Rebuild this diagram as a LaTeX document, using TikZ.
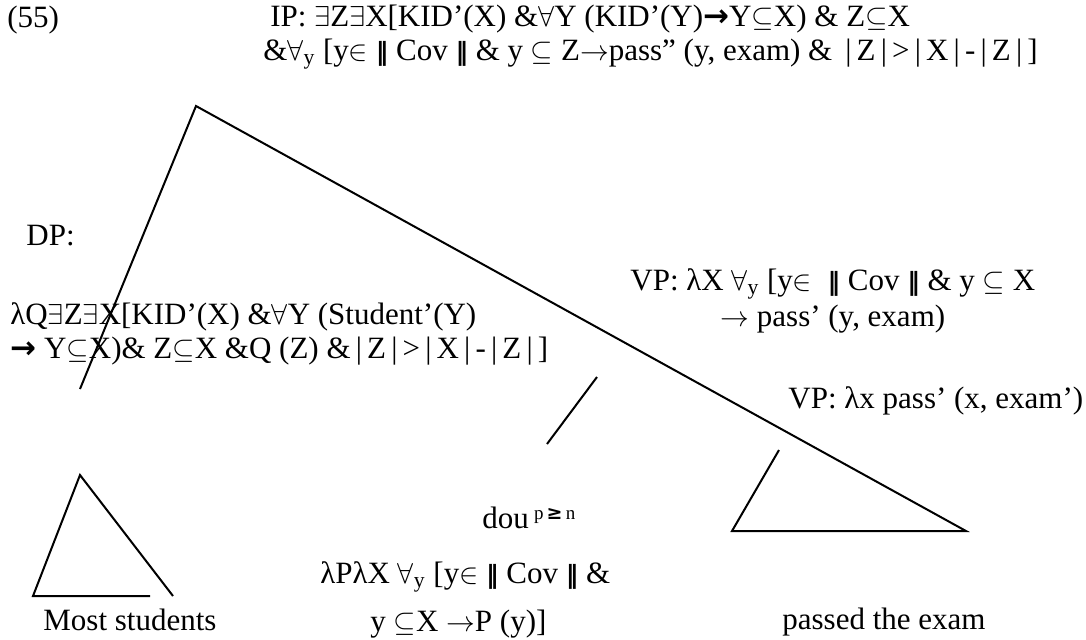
\documentclass[tikz,border=0pt]{standalone}
\usepackage{fontspec}
\setmainfont{Liberation Serif}
\newfontfamily\djv{DejaVu Sans}
\newcommand{\myex}{$\exists$}
\newcommand{\myfa}{$\forall$}
\newcommand{\mysub}{$\subseteq$}
\newcommand{\myin}{$\in$}
\newcommand{\myto}{$\rightarrow$}
\newcommand{\mybto}{{\djv\bfseries →}}
\newcommand{\mynorm}{{\djv\bfseries\fontsize{12.5}{14}\selectfont ‖}}
\newcommand{\ab}[1]{\,|\,#1\,|\,}
\begin{document}
\begin{tikzpicture}[x=0.5pt,y=-0.5pt,
  txt/.style={anchor=base west, inner sep=0pt, font=\fontsize{15.5}{18}\selectfont},
  br/.style={line width=1pt, black}]
\useasboundingbox (0,0) rectangle (1086,639);
% texts
\node[txt] (num) at (7,27) {(55)};
\node[txt] (ip1) at (270,26) {IP: \myex Z\myex X[KID’(X) \&\myfa Y (KID’(Y)\mybto Y\mysub X) \& Z\mysub X};
\node[txt] (ip2) at (263,60) {\&\myfa\textsubscript{y} [y\myin\ \mynorm\ Cov \mynorm\ \& y \mysub\ Z\myto pass” (y, exam) \& \ab{Z}>\ab{X}-\ab{Z}]};
\node[txt] (dp) at (26,245) {DP:};
\node[txt] (dp1) at (10,324) {λQ\myex Z\myex X[KID’(X) \&\myfa Y (Student’(Y)};
\node[txt] (dp2) at (10,358) {\mybto\ Y\mysub X)\& Z\mysub X \&Q (Z) \&\ab{Z}>\ab{X}-\ab{Z}]};
\node[txt] (vp1) at (630,290) {VP: λX \myfa\textsubscript{y} [y\myin\ \ \mynorm\ Cov \mynorm\ \& y \mysub\ X};
\node[txt] (vp1b) at (720,326) {\myto\ pass’ (y, exam)};
\node[txt] (vp2) at (788,408) {VP: λx pass’ (x, exam’)};
\node[txt] (dou) at (482,528) {dou\,\raisebox{0.6ex}{\fontsize{9.5}{10}\selectfont p\,{\djv\bfseries ≥}\,n}};
\node[txt] (dou1) at (320,583) {λPλX \myfa\textsubscript{y} [y\myin\ \mynorm\ Cov \mynorm\ \&};
\node[txt] (dou2) at (370,631) {y \mysub X \myto P (y)]};
\node[txt] (most) at (43,630) {Most students};
\node[txt] (pass) at (782,629) {passed the exam};
% tree lines
\coordinate (apex) at (196,106);
\coordinate (dpend) at (80,389);
\coordinate (vpend) at (966,531);
\coordinate (rt1) at (779,450);
\coordinate (rt2) at (732,531);
\coordinate (m1) at (597,377);
\coordinate (m2) at (547,444);
\coordinate (lt0) at (80,475);
\coordinate (lt1) at (33,596);
\coordinate (lt2) at (150,596);
\coordinate (lt3) at (173,596);
\draw[br] (dpend) -- (apex) -- (vpend) -- (rt2) -- (rt1);
\draw[br] (lt2) -- (lt1) -- (lt0) -- (lt3);
\draw[br] (m1) -- (m2);
\end{tikzpicture}
\end{document}
